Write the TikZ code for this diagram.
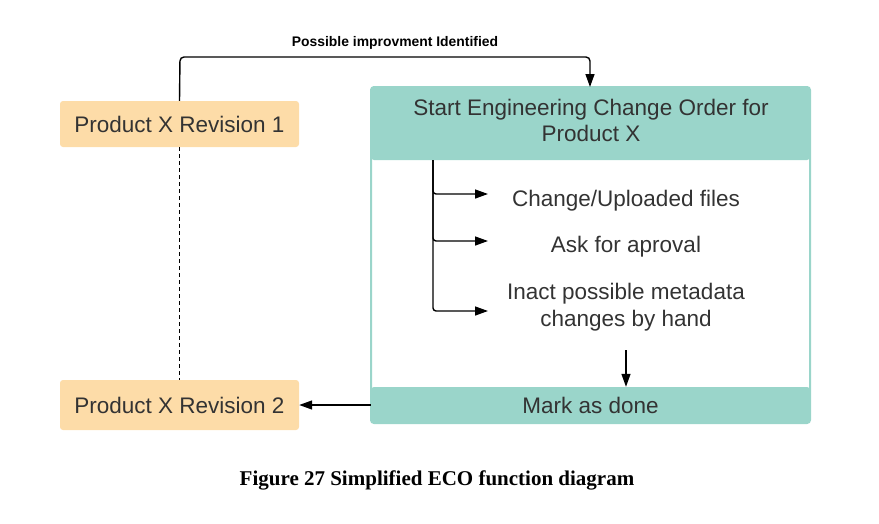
\documentclass[tikz,border=0pt]{standalone}
\usepackage{fontspec}
\setmainfont{Liberation Sans}
\newfontfamily\capfont{Liberation Serif}
\usetikzlibrary{arrows.meta}
\definecolor{peach}{HTML}{FDDCA8}
\definecolor{tealf}{HTML}{9AD5CA}
\definecolor{txt}{HTML}{333333}
\tikzset{
  prodbox/.style={fill=peach, rounded corners=3pt, minimum width=239pt, text=txt, font=\fontsize{22.5}{26}\selectfont, inner sep=0pt},
  tealbox/.style={fill=tealf, rounded corners=3pt, minimum width=439pt, text=txt, font=\fontsize{22.5}{26}\selectfont, inner sep=0pt, align=center},
  steptext/.style={text=txt, font=\fontsize{22.5}{27}\selectfont, align=center, inner sep=0pt},
  conn/.style={line width=1.4pt, black, -{Triangle[length=13pt,width=9pt]}},
}
\begin{document}
\begin{tikzpicture}[x=1pt,y=-1pt]
\useasboundingbox (0,0) rectangle (879,523);
% container
\draw[tealf, line width=2pt, rounded corners=3pt] (371,87) rectangle (810,423);
\node[tealbox, minimum height=73pt] (head) at (590.5,123.5) {};
\node[steptext, font=\fontsize{22.5}{26}\selectfont] (headtxt) at (591,120) {Start Engineering Change Order for\\Product X};
\node[tealbox, minimum height=36pt] (done) at (590.5,405) {Mark as done};
\node[prodbox, minimum height=46pt] (r1) at (179.5,124) {Product X Revision 1};
\node[prodbox, minimum height=50pt] (r2) at (179.5,405) {Product X Revision 2};
\node[steptext] (chg) at (626,201) {Change/Uploaded files};
\node[steptext] (ask) at (626,247) {Ask for aproval};
\node[steptext] (inact) at (626,307) {Inact possible metadata\\changes by hand};
\node[font=\bfseries\fontsize{13.9}{16}\selectfont, inner sep=0pt] (lbl) at (395,43) {Possible improvment Identified};
\node[font=\capfont\bfseries\fontsize{21}{24}\selectfont, inner sep=0pt] (cap) at (437,480) {Figure 27 Simplified ECO function diagram};
% connectors
\draw[conn, rounded corners=4pt] (r1.north) -- (180,57) -- (590,57) -- (590,87);
\draw[line width=1.6pt, dash pattern=on 4pt off 3pt] (r1.south) -- (r2.north);
\draw[conn] (done.west) -- (r2.east);
\coordinate (t0) at (433,160);
\coordinate (e1) at (488,194);
\coordinate (e2) at (488,241);
\coordinate (e3) at (488,311);
\coordinate (d0) at (626,350);
\draw[conn, rounded corners=3pt] (t0) |- (e3);
\draw[conn, rounded corners=3pt] (t0) |- (e2);
\draw[conn, rounded corners=3pt] (t0) |- (e1);
\draw[conn] (d0) -- (d0 |- done.north);
\end{tikzpicture}
\end{document}
